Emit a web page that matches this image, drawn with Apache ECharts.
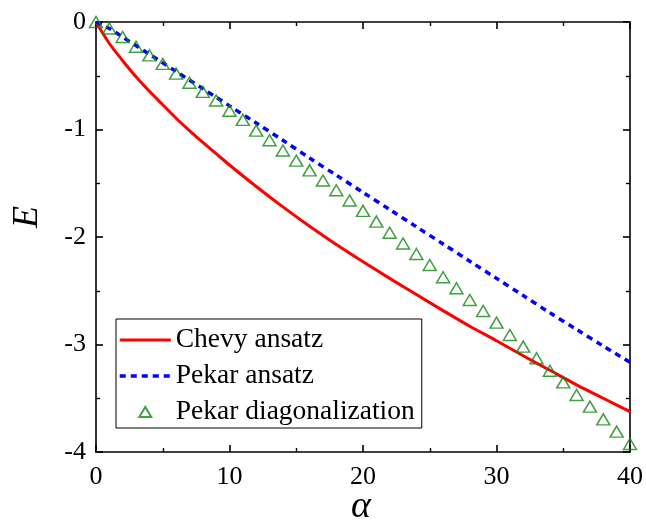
<!DOCTYPE html>
<html>
<head>
<meta charset="utf-8">
<script src="https://cdn.jsdelivr.net/npm/echarts@6/dist/echarts.min.js"></script>
<style>
html,body{margin:0;padding:0;background:#fff;}
#chart{width:646px;height:522px;}
</style>
</head>
<body>
<div id="chart"></div>
<script>
// ---- data ----
var alphaLine = [0,1,2,3,4,5,6,7,8,9,10,12,14,16,18,20,22,24,26,28,30,32,34,36,38,40];
var chevyE = [0,-0.2,-0.36,-0.51,-0.645,-0.77,-0.895,-1.01,-1.12,-1.225,-1.33,-1.53,-1.72,-1.9,-2.07,-2.23,-2.385,-2.535,-2.685,-2.83,-2.965,-3.105,-3.24,-3.375,-3.5,-3.625];
var pekarE = [0,-0.06,-0.14,-0.22,-0.3,-0.38,-0.46,-0.54,-0.62,-0.7,-0.78,-0.94,-1.1,-1.265,-1.425,-1.585,-1.745,-1.905,-2.065,-2.225,-2.385,-2.545,-2.705,-2.86,-3.015,-3.165];
var alphaDiag = [0,1,2,3,4,5,6,7,8,9,10,11,12,13,14,15,16,17,18,19,20,21,22,23,24,25,26,27,28,29,30,31,32,33,34,35,36,37,38,39,40];
var diagE = [0,-0.06,-0.14,-0.23,-0.31,-0.39,-0.48,-0.565,-0.65,-0.73,-0.825,-0.91,-1.01,-1.1,-1.195,-1.29,-1.38,-1.475,-1.565,-1.66,-1.757,-1.857,-1.96,-2.06,-2.158,-2.26,-2.375,-2.477,-2.586,-2.688,-2.797,-2.912,-3.02,-3.128,-3.244,-3.352,-3.47,-3.578,-3.696,-3.81,-3.926];
var seriesNames = ['Chevy ansatz','Pekar ansatz','Pekar diagonalization'];
var xTicks = [0,10,20,30,40];
var yTicks = [0,-1,-2,-3,-4];

function zip(a,b){ return a.map(function(v,i){ return [v,b[i]]; }); }

var FONT = 'Liberation Serif';
var chart = echarts.init(document.getElementById('chart'), null, {renderer:'canvas'});

var axisLine = {show:true, onZero:false, lineStyle:{color:'#000', width:1.6}};
var tick = {show:true, inside:true, length:7, lineStyle:{color:'#000', width:1.6}};
var minor = {show:true, splitNumber:2, length:4, lineStyle:{color:'#000', width:1.4}};
var lbl = {color:'#000', fontFamily:FONT, fontSize:26};
var xMin = xTicks[0], xMax = xTicks[xTicks.length-1];
var yMin = yTicks[yTicks.length-1], yMax = yTicks[0];

function xAx(pos){
  return {type:'value', min:xMin, max:xMax, interval:10, position:pos,
    axisLine:axisLine, axisTick:tick, minorTick:minor, splitLine:{show:false}, minorSplitLine:{show:false},
    axisLabel: pos==='bottom' ? Object.assign({margin:12}, lbl) : {show:false}};
}
function yAx(pos){
  return {type:'value', min:yMin, max:yMax, interval:1, position:pos,
    axisLine:axisLine, axisTick:tick, minorTick:minor, splitLine:{show:false}, minorSplitLine:{show:false},
    axisLabel: pos==='left' ? Object.assign({margin:10}, lbl) : {show:false}};
}

var GREEN = '#0f8a0f';

var option = {
  animation:false,
  backgroundColor:'#fff',
  grid:{left:96, right:14, top:22, bottom:70, containLabel:false},
  xAxis:[xAx('bottom'), xAx('top')],
  yAxis:[yAx('left'), yAx('right')],
  legend:{
    orient:'vertical', left:116, top:319,
    data:[
      {name:seriesNames[0], itemStyle:{color:'rgba(0,0,0,0)', borderWidth:0}, lineStyle:{width:3}},
      {name:seriesNames[1], itemStyle:{color:'rgba(0,0,0,0)', borderWidth:0}, lineStyle:{width:3.5}},
      {name:seriesNames[2], icon:'path://M0,10 L6,0 L12,10 Z'}
    ],
    symbolKeepAspect:true,
    itemWidth:51, itemHeight:10, itemGap:8,
    padding:[7,7,2,2],
    borderColor:'#000', borderWidth:1, backgroundColor:'#fff',
    textStyle:{color:'#000', fontFamily:FONT, fontSize:27.5, lineHeight:28}
  },
  graphic:[
    {type:'text', left:10, top:206, rotation:Math.PI/2,
     style:{text:'E', fontFamily:FONT, fontStyle:'italic', fontSize:36, fill:'#000'}},
    {type:'text', left:351, top:488,
     style:{text:'\u03b1', fontFamily:FONT, fontStyle:'italic', fontSize:38, fill:'#000'}}
  ],
  series:[
    {name:seriesNames[0], type:'line', data:zip(alphaLine, chevyE), smooth:0.3, symbol:'none',
     z:3, lineStyle:{color:'#ff0000', width:3}, itemStyle:{color:'#ff0000'}},
    {name:seriesNames[1], type:'line', data:zip(alphaLine, pekarE), smooth:0.3, symbol:'none',
     z:4, lineStyle:{color:'#0000ff', width:3.5, type:[6,5]}, itemStyle:{color:'#0000ff'}},
    {name:seriesNames[2], type:'scatter', data:zip(alphaDiag, diagE), symbol:'triangle', symbolSize:[13,11],
     z:5, itemStyle:{color:'rgba(255,255,255,0)', borderColor:GREEN, borderWidth:1.5}}
  ]
};
chart.setOption(option);
</script>
</body>
</html>
